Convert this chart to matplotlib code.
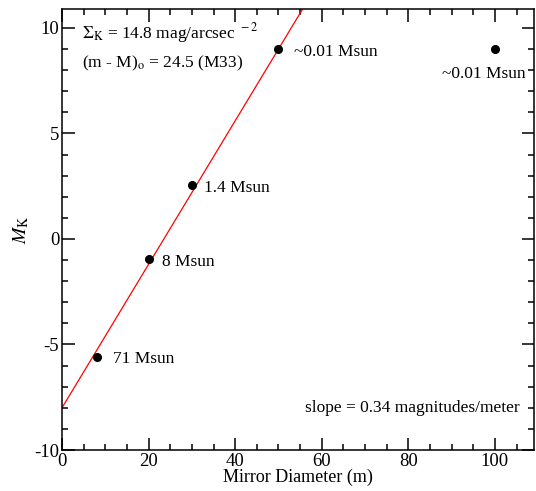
import matplotlib.pyplot as plt
from matplotlib.ticker import MultipleLocator

plt.rcParams['font.family'] = 'Liberation Serif'
plt.rcParams['mathtext.fontset'] = 'stix'
plt.rcParams['axes.unicode_minus'] = False

# mirror diameter (m) and absolute K magnitude of the points
diam = [8, 20, 30, 50, 100]
mag_k = [-5.57, -0.97, 2.54, 9.0, 9.0]
labels = ["71 Msun", "8 Msun", "1.4 Msun", "~0.01 Msun", "~0.01 Msun"]

# fitted line
slope = 0.34
intercept = -8.0
line_x = [0, 60]

fig = plt.figure(figsize=(5.36, 4.91), dpi=100)
ax = fig.add_axes([0.1157, 0.0835, 0.8803, 0.8982])

ax.plot(line_x, [intercept + slope * x for x in line_x], color="red", lw=0.9)
ax.plot(diam, mag_k, "o", color="black", ms=5.5)

# point labels
offsets = [(12, -5), (10, -5), (9, -5), (11, -5), (-38, -21)]
for x, y, lab, off in zip(diam, mag_k, labels, offsets):
    ax.annotate(lab, (x, y), xytext=off, textcoords="offset points",
                fontsize=12.5)

ax.text(0.042, 0.945, r"$\Sigma_{\rm K}$ = 14.8 mag/arcsec $^{\rm -2}$",
        transform=ax.transAxes, fontsize=12.5, va="center")
ax.text(0.042, 0.876, r"(m - M)$_{\rm o}$ = 24.5 (M33)",
        transform=ax.transAxes, fontsize=12.5, va="center")
ax.text(0.969, 0.095, "slope = 0.34 magnitudes/meter",
        transform=ax.transAxes, fontsize=12.5, ha="right", va="center")

ax.set_xlim(0, 109)
ax.set_ylim(-10, 10.9)
ax.xaxis.set_major_locator(MultipleLocator(20))
ax.xaxis.set_minor_locator(MultipleLocator(5))
ax.yaxis.set_major_locator(MultipleLocator(5))
ax.yaxis.set_minor_locator(MultipleLocator(1))
ax.tick_params(which="both", direction="in", top=True, right=True,
               labelsize=13.5, width=1.1)
ax.tick_params(which="major", length=9, pad=2)
ax.tick_params(which="minor", length=4.5)
for s in ax.spines.values():
    s.set_linewidth(1.1)

ax.set_xlabel("Mirror Diameter (m)", fontsize=13, labelpad=-1)
ax.set_ylabel(r"$M_{\rm K}$", fontsize=14, labelpad=2)

fig.savefig("out.png", dpi=100)
